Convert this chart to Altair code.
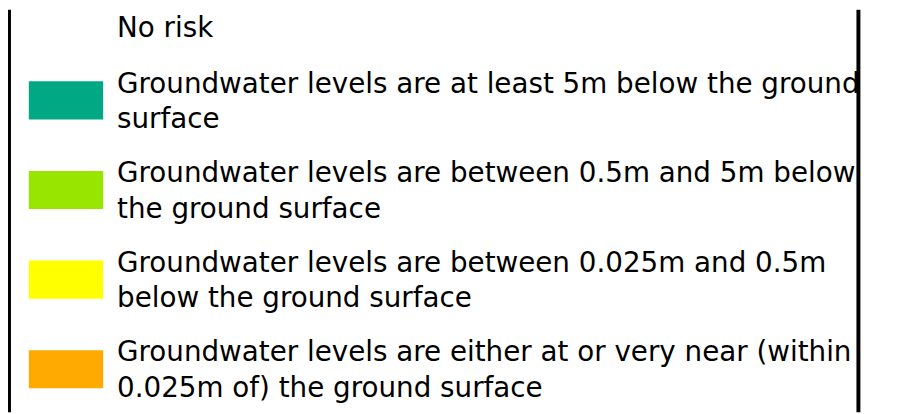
import altair as alt
import pandas as pd

labels = [
    "No risk",
    "Groundwater levels are at least 5m below the ground\nsurface",
    "Groundwater levels are between 0.5m and 5m below\nthe ground surface",
    "Groundwater levels are between 0.025m and 0.5m\nbelow the ground surface",
    "Groundwater levels are either at or very near (within\n0.025m of) the ground surface",
]
colors = ["#FFFFFF", "#00A884", "#98E600", "#FFFF00", "#FFAA00"]
rows = list(range(len(labels)))

df = pd.DataFrame({"row": rows, "label": labels, "color": colors})

W, H = 906, 406
yscale = alt.Scale(domain=[-0.011, 4.48], reverse=True, nice=False, zero=False)
yenc = alt.Y("row:Q", scale=yscale, axis=None)

base = alt.Chart(df)

swatches = base.transform_filter("datum.row > 0").mark_point(
    shape="M-1,-0.513h2v1.027h-2z", filled=True, opacity=1, strokeWidth=0, size=5625
).encode(
    x=alt.value(58.5),
    y=yenc,
    color=alt.Color("color:N", scale=None),
)

font = "DejaVu Sans"
fs = 28
lh = 35.7

texts = base.transform_filter("datum.row > 0").mark_text(
    align="left", baseline="middle", font=font, fontSize=fs,
    lineBreak="\n", lineHeight=lh, dy=-lh / 2 + 2, color="black"
).encode(
    x=alt.value(110),
    y=yenc,
    text="label:N",
)

norisk = base.transform_filter("datum.row == 0").mark_text(
    align="left", baseline="middle", font=font, fontSize=fs, dy=18.5, color="black"
).encode(
    x=alt.value(110),
    y=yenc,
    text="label:N",
)

mask = base.transform_filter("datum.row == 0").mark_rect(color="white").encode(
    x=alt.value(858), x2=alt.value(W), y=alt.value(0), y2=alt.value(H)
)

left_rule = base.transform_filter("datum.row == 0").mark_rule(color="black", strokeWidth=3).encode(
    x=alt.value(1.5), y=alt.value(0), y2=alt.value(H)
)
right_rule = base.transform_filter("datum.row == 0").mark_rule(color="black", strokeWidth=4).encode(
    x=alt.value(858), y=alt.value(0), y2=alt.value(H)
)

chart = alt.layer(swatches, texts, norisk, mask, left_rule, right_rule).properties(
    width=W, height=H, padding=0, autosize=alt.AutoSizeParams(type="none"), background="white"
).configure_view(stroke=None)

chart.save("out.html", embed_options={"renderer": "svg", "actions": False})
